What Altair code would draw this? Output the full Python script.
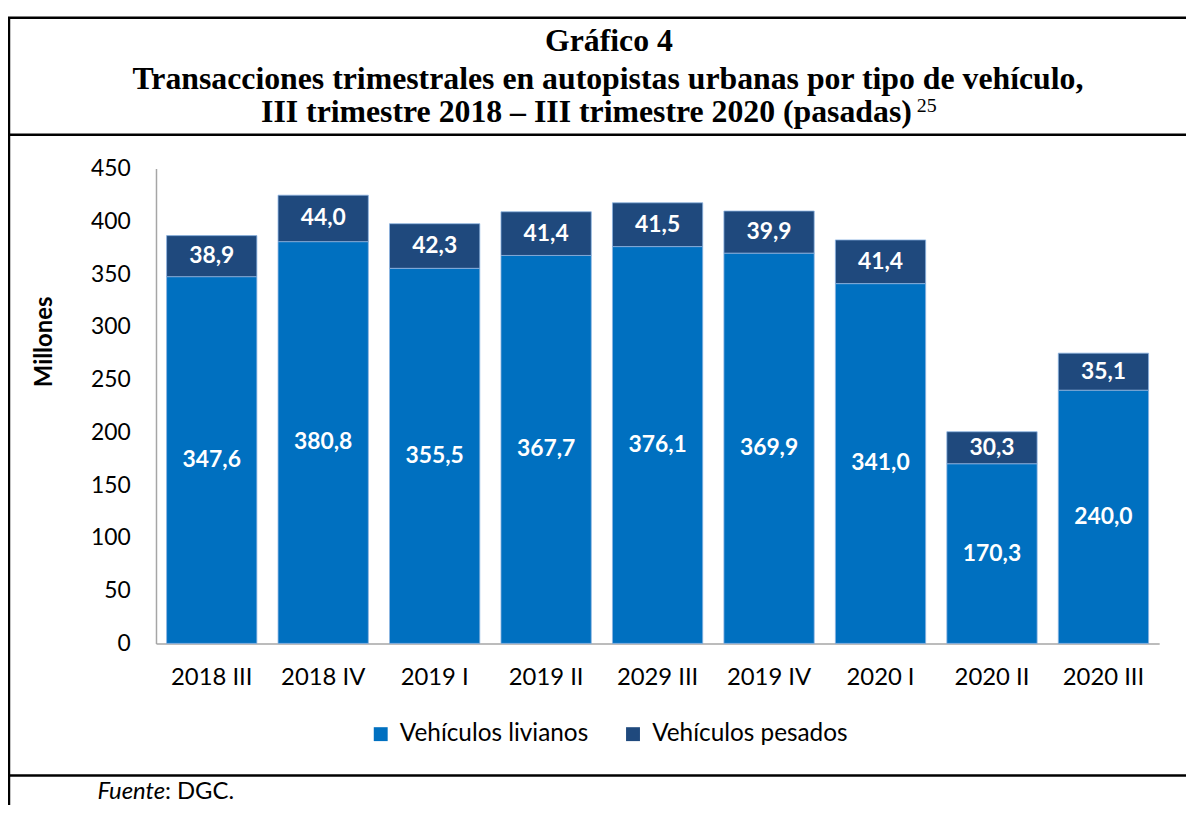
import altair as alt
import pandas as pd

categories = ["2018 III", "2018 IV", "2019 I", "2019 II", "2029 III", "2019 IV", "2020 I", "2020 II", "2020 III"]
livianos = [347.6, 380.8, 355.5, 367.7, 376.1, 369.9, 341.0, 170.3, 240.0]
pesados = [38.9, 44.0, 42.3, 41.4, 41.5, 39.9, 41.4, 30.3, 35.1]
series = ["Vehículos livianos", "Vehículos pesados"]
colors = ["#0070C0", "#1F497D"]
y_ticks = [0, 50, 100, 150, 200, 250, 300, 350, 400, 450]

rows = []
for i, c in enumerate(categories):
    base = 0.0
    for s, v in zip(series, [livianos[i], pesados[i]]):
        rows.append({
            "cat": c, "serie": s, "v": v,
            "y0": base, "y1": base + v, "mid": base + v / 2,
            "lbl": f"{v:.1f}".replace(".", ","),
        })
        base += v
df = pd.DataFrame(rows)

W, H = 1010, 478
LABEL_FONT = "Lato"

x_enc = alt.X("cat:N", sort=categories, title=None,
              scale=alt.Scale(paddingInner=0.19, paddingOuter=0.095),
              axis=alt.Axis(labelAngle=0, labelFontSize=24, labelFont=LABEL_FONT, labelColor="#000000",
                            labelPadding=22, ticks=False, domainColor="#A6A6A6", domainWidth=1.5))
y_enc = alt.Y("y1:Q", title="Millones",
              scale=alt.Scale(domain=[0, 450], nice=False),
              axis=alt.Axis(values=y_ticks, grid=False, ticks=False, labelFontSize=23, labelFont=LABEL_FONT,
                            labelColor="#000000", labelPadding=26, domainColor="#A6A6A6", domainWidth=1.5,
                            titleFontSize=24, titleFont=LABEL_FONT, titleFontWeight="bold", titleColor="#000000",
                            titleX=-112, titleY=174, titleAngle=-90, titleAlign="center", titleBaseline="middle"))

bars = alt.Chart(df).mark_bar(stroke="#8DB4E2", strokeWidth=0.8).encode(
    x=x_enc,
    y=y_enc,
    y2="y0:Q",
    color=alt.Color("serie:N", scale=alt.Scale(domain=series, range=colors),
                    legend=alt.Legend(title=None, orient="none", direction="horizontal",
                                      legendX=214, legendY=557, symbolType="square", symbolSize=196,
                                      symbolStrokeWidth=0, labelFontSize=24.5, labelFont=LABEL_FONT,
                                      labelColor="#000000", columnPadding=32, labelOffset=7, padding=0,
                                      labelLimit=0)),
)

labels = alt.Chart(df).mark_text(color="white", fontWeight="bold", fontSize=23, font=LABEL_FONT,
                                 baseline="middle").encode(
    x=alt.X("cat:N", sort=categories),
    y=alt.Y("mid:Q"),
    text="lbl:N",
)

one = alt.Data(values=[{"k": 1}])
L, R = -149, 1040
top, mid_line, bottom = -152, -34, 611


def hrule(yv, x1=L, x2=R):
    return alt.Chart(one).mark_rule(color="black", strokeWidth=2.5).encode(
        x=alt.value(x1), x2=alt.value(x2), y=alt.value(yv))


frame = [
    hrule(top), hrule(mid_line), hrule(bottom),
    alt.Chart(one).mark_rule(color="black", strokeWidth=2.5).encode(
        x=alt.value(L + 1), y=alt.value(top), y2=alt.value(650)),
]


def txt(t, xv, yv, **kw):
    return alt.Chart(one).mark_text(text=t, **kw).encode(x=alt.value(xv), y=alt.value(yv))


TF = "Liberation Serif"
TS = 32
FS = 24
titles = [
    txt("Gráfico 4", 456, -118, font=TF, fontSize=TS, fontWeight="bold", align="center", baseline="alphabetic"),
    txt("Transacciones trimestrales en autopistas urbanas por tipo de vehículo,", 455, -80, font=TF, fontSize=TS,
        fontWeight="bold", align="center", baseline="alphabetic"),
    txt("III trimestre 2018 – III trimestre 2020 (pasadas)", 761, -47, font=TF, fontSize=TS, fontWeight="bold",
        align="right", baseline="alphabetic"),
    txt("25", 766, -57, font=TF, fontSize=20, align="left", baseline="alphabetic"),
    txt("Fuente", -59, 628, font=LABEL_FONT, fontSize=FS, fontStyle="italic", align="left", baseline="middle"),
    txt(": DGC.", 9, 628, font=LABEL_FONT, fontSize=FS, align="left", baseline="middle"),
]

chart = alt.layer(bars, labels, *frame, *titles).properties(
    width=W, height=H,
    background="white",
    autosize=alt.AutoSizeParams(type="none"),
    padding={"left": 149, "top": 159, "right": 27, "bottom": 160},
).configure_view(strokeWidth=0, stroke="transparent")

chart.save("out.html", embed_options={"renderer": "svg", "actions": False})
